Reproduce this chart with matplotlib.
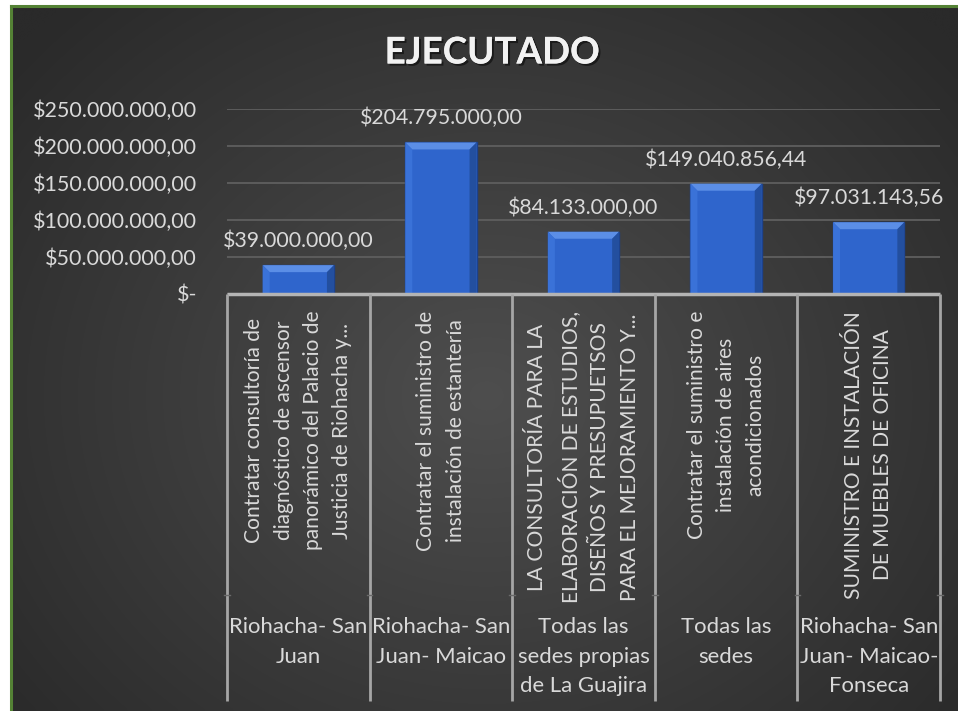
import numpy as np
import matplotlib
matplotlib.use("Agg")
import matplotlib.pyplot as plt
from matplotlib.patches import Polygon
import matplotlib.patheffects as pe

plt.rcParams['font.family'] = ['Lato', 'DejaVu Sans']

# ---------------- data ----------------
title = "EJECUTADO"
projects = [
    "Contratar consultoría de\ndiagnóstico de ascensor\npanorámico del Palacio de\nJusticia de Riohacha y...",
    "Contratar el suministro de\ninstalación de estantería",
    "LA CONSULTORÍA PARA LA\nELABORACIÓN DE ESTUDIOS,\nDISEÑOS Y PRESUPUETSOS\nPARA EL MEJORAMIENTO Y...",
    "Contratar el suministro e\ninstalación de aires\nacondicionados",
    "SUMINISTRO E INSTALACIÓN\nDE MUEBLES DE OFICINA",
]
locations = [
    "Riohacha- San\nJuan",
    "Riohacha- San\nJuan- Maicao",
    "Todas las\nsedes propias\nde La Guajira",
    "Todas las\nsedes",
    "Riohacha- San\nJuan- Maicao-\nFonseca",
]
values = [39000000.00, 204795000.00, 84133000.00, 149040856.44, 97031143.56]
yticks = [0, 50000000, 100000000, 150000000, 200000000, 250000000]


def money(v):
    if v == 0:
        return "$-"
    s = f"{v:,.2f}"
    s = s.replace(",", "X").replace(".", ",").replace("X", ".")
    return "$" + s

# ---------------- figure ----------------
W, H = 958, 711
fig = plt.figure(figsize=(W / 100, H / 100), dpi=100)
fig.patch.set_facecolor("white")

# background (radial gradient) in the dark frame
bg = fig.add_axes([12 / W, 0, 1 - 12 / W, (H - 7) / H], zorder=-10)
bg.set_axis_off()
yy, xx = np.mgrid[0:200, 0:270]
cx, cy = 135, 110
r = np.sqrt(((xx - cx) / 175.0) ** 2 + ((yy - cy) / 150.0) ** 2)
r = np.clip(r, 0, 1)
inner = np.array([0x4e, 0x4e, 0x4e]) / 255
outer = np.array([0x2a, 0x2a, 0x2a]) / 255
img = inner[None, None, :] * (1 - r[..., None]) + outer[None, None, :] * r[..., None]
bg.imshow(img, aspect="auto", extent=[0, 1, 0, 1], interpolation="bicubic")
bg.set_xlim(0, 1)
bg.set_ylim(0, 1)

# green border (left and top)
green = "#548235"
fig.add_artist(plt.Line2D([11 / W, 11 / W], [0, (H - 6) / H], color=green, lw=2.2,
                          transform=fig.transFigure))
fig.add_artist(plt.Line2D([11 / W, 1], [(H - 6) / H, (H - 6) / H], color=green, lw=2.2,
                          transform=fig.transFigure))

# plot axes
L, R, T, B = 227, 940, 109, 294
ax = fig.add_axes([L / W, (H - B) / H, (R - L) / W, (B - T) / H])
ax.patch.set_alpha(0)
n = len(values)
x = np.arange(n)
ax.set_xlim(-0.5, n - 0.5)
ax.set_ylim(0, 250000000)
for s in ax.spines.values():
    s.set_visible(False)
ax.set_xticks([])
ax.set_yticks(yticks)
ax.set_yticklabels([money(v) for v in yticks])
ax.tick_params(axis="y", length=0, pad=21.6, labelsize=15.5, labelcolor="#d9d9d9")
ax.yaxis.grid(True, color="#5c5c5c", lw=1.4)
ax.set_axisbelow(True)

# bars
bw = 0.5
ax.bar(x, values, width=bw, color="#2f65cc", edgecolor="#1d428c", lw=1.0, zorder=3)

# bevel effect computed from the bars
ppx = 250000000 / (B - T)  # data units per pixel (y)
bx = 7 / ((R - L) / n)     # bevel in x data units
for xi, v in zip(x, values):
    x0, x1 = xi - bw / 2, xi + bw / 2
    by = 7 * ppx
    top = Polygon([[x0, v], [x1, v], [x1 - bx, v - by], [x0 + bx, v - by]],
                  closed=True, color="#5b8ee6", zorder=4, lw=0)
    left = Polygon([[x0, v], [x0 + bx, v - by], [x0 + bx, 0], [x0, 0]],
                   closed=True, color="#3a72d8", zorder=4, lw=0)
    right = Polygon([[x1, v], [x1 - bx, v - by], [x1 - bx, 0], [x1, 0]],
                    closed=True, color="#234f9f", zorder=4, lw=0)
    for p in (top, left, right):
        ax.add_patch(p)
    ax.annotate(money(v), (xi, v), xytext=(0, 10), textcoords="offset points",
                ha="center", va="bottom", fontsize=15.3, color="#d9d9d9", zorder=5)

# category table below axis
tr = ax.get_xaxis_transform()


def ya(p):
    return (B - p) / (B - T)


line_c = "#a6a6a6"
ax.plot([-0.5, n - 0.5], [0, 0], transform=tr, color="#b4b4b4", lw=2.5,
        clip_on=False, zorder=6, solid_capstyle="butt")
for b in np.arange(n + 1) - 0.5:
    ax.plot([b, b], [0, ya(701)], transform=tr, color=line_c, lw=2,
            clip_on=False, zorder=6, solid_capstyle="butt")
    ax.plot([b - 0.02, b + 0.02], [ya(595), ya(595)], transform=tr, color="#6a6a6a",
            lw=1, clip_on=False, zorder=6)

for xi, ptxt, ltxt in zip(x, projects, locations):
    ax.text(xi, ya(311), ptxt, transform=tr, rotation=90, ha="center", va="top",
            multialignment="center", fontsize=15.1, color="#d9d9d9", linespacing=1.58)
    ax.text(xi, ya(617), ltxt, transform=tr, ha="center", va="top",
            multialignment="center", fontsize=15.9, color="#d9d9d9", linespacing=1.6)

# title
fig.text(492 / W, 1 - 53 / H, title, ha="center", va="center", fontsize=26.5,
         fontweight="bold", color="#f2f2f2",
         path_effects=[pe.withSimplePatchShadow(offset=(1.5, -1.5), shadow_rgbFace="black", alpha=0.5),
                       pe.Normal()])

fig.savefig("out.png", dpi=100, facecolor=fig.get_facecolor())
